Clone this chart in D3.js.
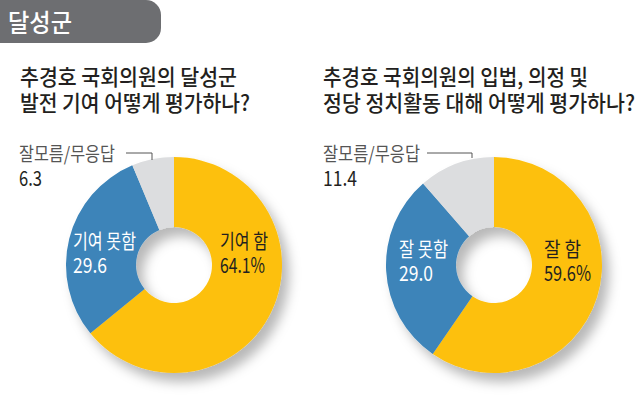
<!DOCTYPE html>
<meta charset="utf-8">
<style>
  body { margin: 0; background: #fff; }
  text { font-family: "Noto Sans CJK KR", "Noto Sans", sans-serif; }
  .title { font-weight: 500; }
</style>
<svg width="640" height="398"></svg>
<script src="https://d3js.org/d3.v7.min.js"></script>
<script>

  var region = "달성군";

  var titles = [
    ["추경호 국회의원의 달성군", "발전 기여 어떻게 평가하나?"],
    ["추경호 국회의원의 입법, 의정 및", "정당 정치활동 대해 어떻게 평가하나?"]
  ];

  var categories = [
    ["기여 함", "기여 못함", "잘모름/무응답"],
    ["잘 함", "잘 못함", "잘모름/무응답"]
  ];

  var values = [
    [64.1, 29.6, 6.3],
    [59.6, 29.0, 11.4]
  ];

  var valueLabels = [
    ["64.1%", "29.6", "6.3"],
    ["59.6%", "29.0", "11.4"]
  ];

  var colors = ["#fdc010", "#3c84b9", "#dcdddf"];

  var svg = d3.select("svg");

  // squeeze text to the condensed look of the original
  function put(g, x, y, size, fill, str, w) {
    var t = g.append("text")
      .attr("x", x).attr("y", y)
      .attr("font-size", size)
      .attr("fill", fill)
      .text(str);
    if (w) t.attr("textLength", w).attr("lengthAdjust", "spacingAndGlyphs");
    return t;
  }

  // header tab
  svg.append("path")
    .attr("d", "M0,0 H146 A15,15 0 0 1 161,15 V28 A15,15 0 0 1 146,43 H0 Z")
    .attr("fill", "#6d6e71");
  put(svg, 8, 32, 25, "#fff", region, 64).attr("class", "title");

  var defs = svg.append("defs");
  var f = defs.append("filter").attr("id", "shadow")
    .attr("x", "-20%").attr("y", "-20%").attr("width", "150%").attr("height", "150%");
  f.append("feDropShadow")
    .attr("dx", 7).attr("dy", 9).attr("stdDeviation", 6)
    .attr("flood-color", "#000").attr("flood-opacity", 0.28);

  var charts = [
    { cx: 174, cy: 265, tx: 20, tw: [217, 230], lx: 19, lw: [96, 23], leader: [126, 152, 160],
      inY: 249, inXr: 220, inXl: 73, rw: [48, 45], lfw: [63, 34] },
    { cx: 494, cy: 265, tx: 323, tw: [265, 312], lx: 323, lw: [97, 34], leader: [427, 472, 158],
      inY: 257, inXr: 544, inXl: 399, rw: [37, 47], lfw: [49, 34] }
  ];

  var pie = d3.pie().sort(null).value(function(d) { return d; });
  var arc = d3.arc().innerRadius(38).outerRadius(108);

  charts.forEach(function(c, i) {
    var g = svg.append("g");

    titles[i].forEach(function(t, j) {
      put(g, c.tx, 85 + j * 26, 22, "#231f20", t, c.tw[j]).attr("class", "title");
    });

    var donut = g.append("g")
      .attr("transform", "translate(" + c.cx + "," + c.cy + ")");
    donut.append("g").attr("filter", "url(#shadow)")
      .selectAll("path")
      .data(pie(values[i]))
      .enter().append("path")
      .attr("d", arc)
      .attr("fill", function(d, k) { return colors[k]; });

    // leader for the small slice
    g.append("path")
      .attr("d", "M" + c.leader[0] + ",153 H" + c.leader[1] + " V" + c.leader[2])
      .attr("fill", "none")
      .attr("stroke", "#555")
      .attr("stroke-width", 1);

    put(g, c.lx, 161, 19, "#555", categories[i][2], c.lw[0]);
    put(g, c.lx, 186, 21, "#231f20", valueLabels[i][2], c.lw[1]);

    put(g, c.inXr, c.inY, 20, "#231f20", categories[i][0], c.rw[0]);
    put(g, c.inXr, c.inY + 24, 21, "#231f20", valueLabels[i][0], c.rw[1]);

    put(g, c.inXl, c.inY, 20, "#fff", categories[i][1], c.lfw[0]);
    put(g, c.inXl, c.inY + 24, 21, "#fff", valueLabels[i][1], c.lfw[1]);
  });

</script>
